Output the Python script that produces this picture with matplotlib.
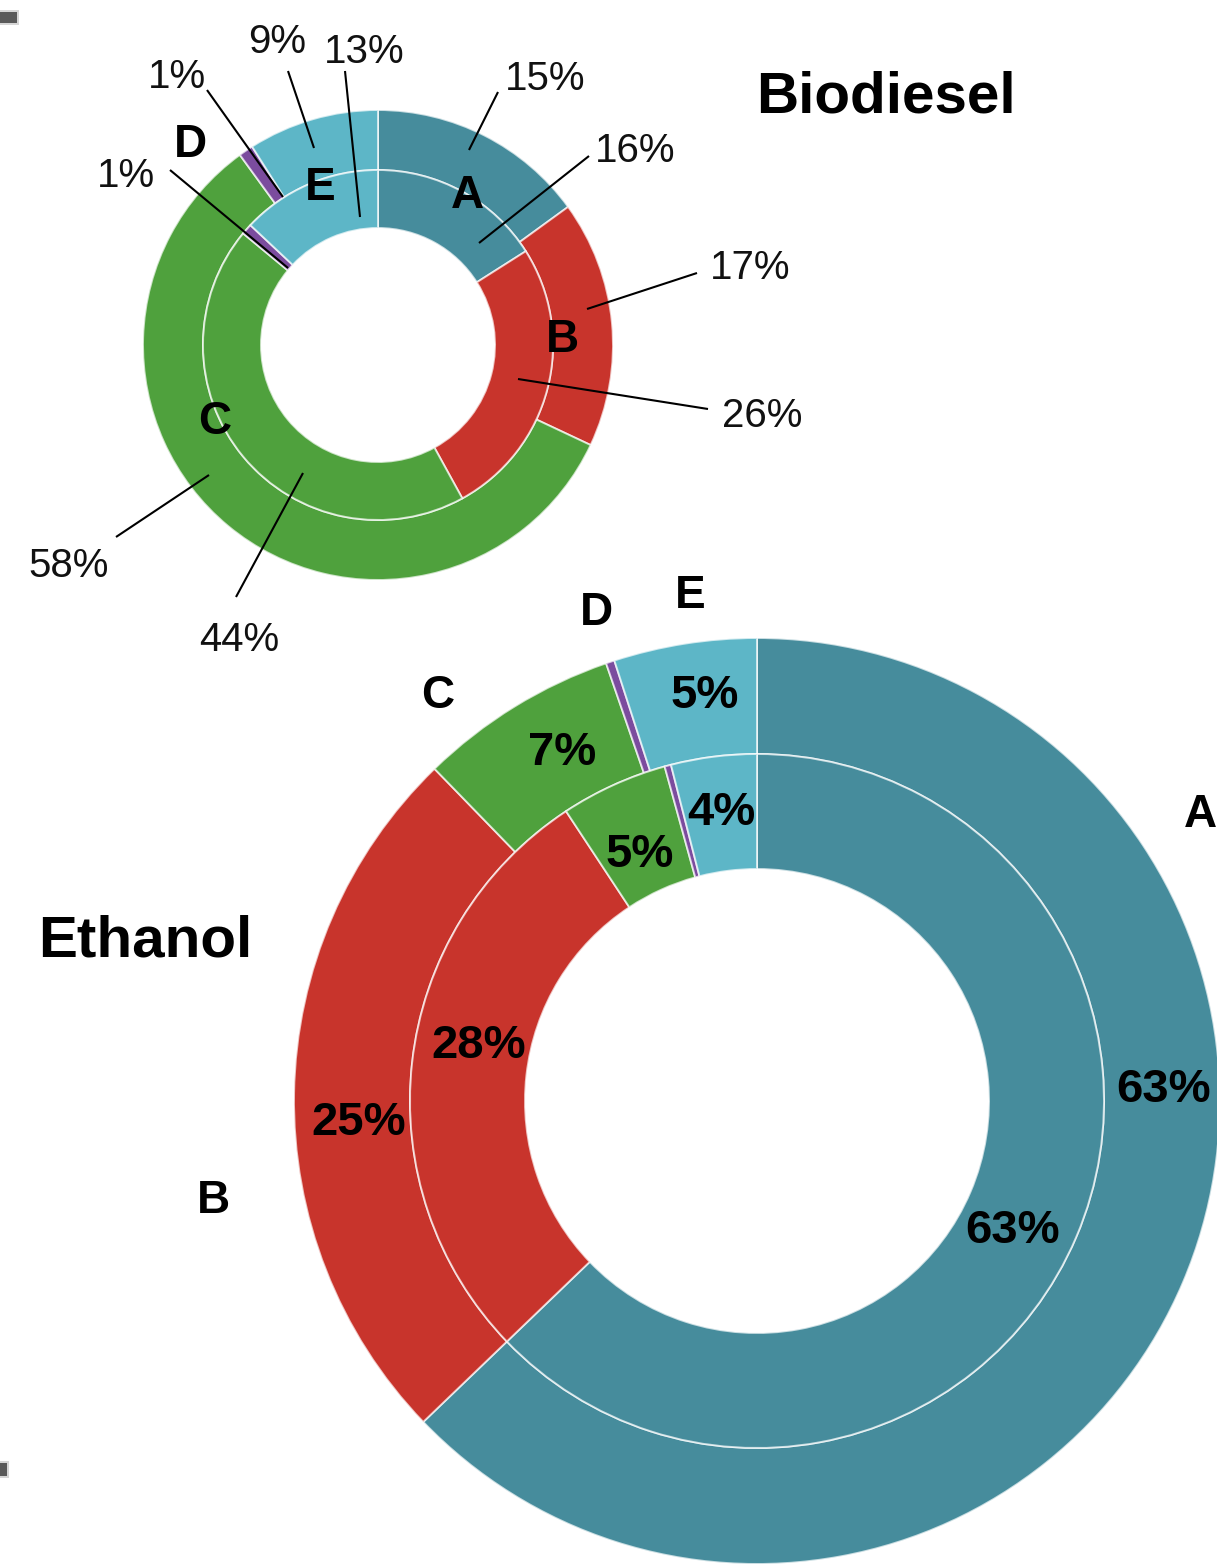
import matplotlib
matplotlib.use("Agg")
import matplotlib.pyplot as plt
from matplotlib.patches import Rectangle

W, H = 1217, 1568

# ---- data -------------------------------------------------------------
categories = ["A", "B", "C", "D", "E"]
colors = ["#468C9C", "#C8342C", "#4FA13D", "#7B4C9E", "#5DB6C7"]

biodiesel_outer = [15, 17, 58, 1, 9]
biodiesel_inner = [16, 26, 44, 1, 13]
ethanol_outer = [63, 25, 7, 0.3, 5]
ethanol_inner = [63, 28, 5, 0.3, 4]

# ---- layout (pixel coordinates, y measured from the top) ---------------
bio_center, bio_radii = (378, 345), (235, 175, 117)
eth_center, eth_radii = (757, 1101), (463, 347, 232)

# biodiesel: label (centre x, baseline y) and leader line (start, tip)
bio_outer_text = [(545, 90), (750, 279), (69, 577), (177, 88), (277, 53)]
bio_outer_line = [((498, 92), (469, 150)), ((697, 273), (587, 309)),
                  ((116, 537), (209, 475)), ((207, 90), (283, 197)),
                  ((288, 71), (314, 148))]
bio_inner_text = [(635, 162), (762, 427), (239, 651), (126, 187), (364, 63)]
bio_inner_line = [((589, 156), (479, 243)), ((708, 409), (518, 379)),
                  ((236, 597), (303, 473)), ((170, 170), (288, 268)),
                  ((345, 71), (360, 217))]
bio_letters = [(467, 208), (562, 352), (215, 434), (190, 157), (320, 200)]

# ethanol: labels sit inside the wedges (D is too thin to carry one)
eth_outer_text = [(1164, 1102), (359, 1135), (562, 765), None, (705, 708)]
eth_inner_text = [(1013, 1243), (479, 1058), (640, 867), None, (721, 825)]
eth_letters = [(1200, 827), (213, 1213), (438, 708), (596, 625), (690, 608)]

FONT = "Liberation Sans"


def P(x, y):
    return x, H - y


def ring(ax, values, center, r_out, r_in):
    ax.pie(values, colors=colors, radius=r_out, center=P(*center),
           startangle=90, counterclock=False,
           wedgeprops=dict(width=r_out - r_in,
                           edgecolor=(1, 1, 1, 0.7), linewidth=1.4))


def pct(v):
    return f"{v:.0f}%"


fig = plt.figure(figsize=(W / 100, H / 100), dpi=100)
ax = fig.add_axes([0, 0, 1, 1])

# ---- donuts -----------------------------------------------------------
ring(ax, biodiesel_outer, bio_center, bio_radii[0], bio_radii[1])
ring(ax, biodiesel_inner, bio_center, bio_radii[1], bio_radii[2])
ring(ax, ethanol_outer, eth_center, eth_radii[0], eth_radii[1])
ring(ax, ethanol_inner, eth_center, eth_radii[1], eth_radii[2])

# ---- biodiesel annotations --------------------------------------------
for values, texts, lines in ((biodiesel_outer, bio_outer_text, bio_outer_line),
                             (biodiesel_inner, bio_inner_text, bio_inner_line)):
    for v, (tx, ty), ((x0, y0), (x1, y1)) in zip(values, texts, lines):
        ax.text(*P(tx, ty), pct(v), ha="center", va="baseline",
                fontsize=29, family=FONT, color="#111111")
        ax.plot([x0, x1], [H - y0, H - y1], color="black", lw=1.5,
                solid_capstyle="butt")

for cat, (lx, ly) in zip(categories, bio_letters):
    ax.text(*P(lx, ly), cat, ha="center", va="baseline", fontsize=33,
            fontweight="bold", family=FONT, color="black")

# ---- ethanol annotations ----------------------------------------------
for values, texts in ((ethanol_outer, eth_outer_text),
                      (ethanol_inner, eth_inner_text)):
    for v, pos in zip(values, texts):
        if pos is None:
            continue
        ax.text(*P(*pos), pct(v), ha="center", va="baseline", fontsize=34,
                fontweight="bold", family=FONT, color="black")

for cat, (lx, ly) in zip(categories, eth_letters):
    ax.text(*P(lx, ly), cat, ha="center", va="baseline", fontsize=33,
            fontweight="bold", family=FONT, color="black")

# ---- titles -----------------------------------------------------------
ax.text(*P(886, 112), "Biodiesel", ha="center", va="baseline", fontsize=42,
        fontweight="bold", family=FONT, color="black")
ax.text(*P(145, 956), "Ethanol", ha="center", va="baseline", fontsize=42,
        fontweight="bold", family=FONT, color="black")

# ---- small margin ticks on the left edge ------------------------------
for (x, y, w, h) in ((0, 12, 17, 11), (0, 1463, 7, 13)):
    ax.add_patch(Rectangle((x, H - y - h - 2), w + 2, h + 4, color="#bbbbbb",
                           lw=0, alpha=0.6))
    ax.add_patch(Rectangle((x, H - y - h), w, h, color="#5a5a5a", lw=0))

ax.set_xlim(0, W)
ax.set_ylim(0, H)
ax.set_aspect("equal")
ax.axis("off")

fig.savefig("out.png", dpi=100, facecolor="white")
